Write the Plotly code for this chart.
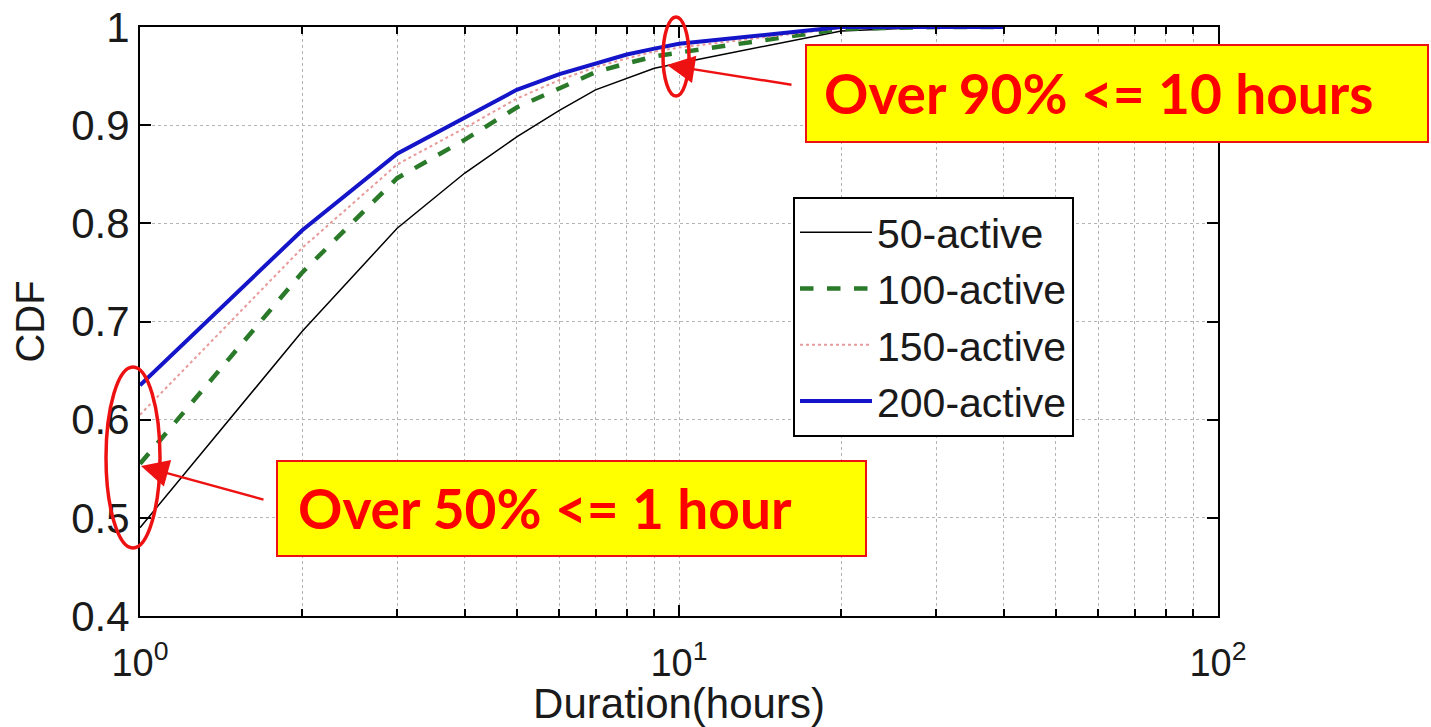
import plotly.graph_objects as go

# Session duration (hours) and the CDF for each activity group
hours = [1, 2, 3, 4, 5, 6, 7, 8, 9, 10, 20, 30, 40]
cdf_50 = [0.490, 0.690, 0.795, 0.851, 0.888, 0.915, 0.936, 0.948, 0.958, 0.963, 0.996, 1.0, 1.0]
cdf_100 = [0.555, 0.750, 0.846, 0.885, 0.918, 0.937, 0.954, 0.963, 0.970, 0.974, 0.998, 1.0, 1.0]
cdf_150 = [0.605, 0.775, 0.860, 0.897, 0.927, 0.946, 0.959, 0.968, 0.975, 0.979, 0.999, 1.0, 1.0]
cdf_200 = [0.635, 0.793, 0.871, 0.908, 0.936, 0.952, 0.963, 0.972, 0.978, 0.983, 1.0, 1.0, 1.0]

series_names = ["50-active", "100-active", "150-active", "200-active"]
y_ticks = [0.4, 0.5, 0.6, 0.7, 0.8, 0.9, 1.0]
y_tick_text = ["0.4", "0.5", "0.6", "0.7", "0.8", "0.9", "1"]
x_ticks = [1, 10, 100]
x_tick_text = ["10<sup>0</sup>", "10<sup>1</sup>", "10<sup>2</sup>"]
x_minor = [2, 3, 4, 5, 6, 7, 8, 9, 20, 30, 40, 50, 60, 70, 80, 90]

W, H = 1431, 727
L, R, T, B = 140, 1218, 27, 616  # plot area in pixels


def px(x):
    return (x - L) / (R - L)


def py(y):
    return (B - y) / (B - T)


styles = [
    dict(color="black", width=1.5),
    dict(color="#2a7a2a", width=4.5, dash="dash"),
    dict(color="#e89a9a", width=2, dash="dot"),
    dict(color="#1414c8", width=4),
]

fig = go.Figure()
for name, vals, st in zip(series_names, [cdf_50, cdf_100, cdf_150, cdf_200], styles):
    fig.add_trace(go.Scatter(x=hours, y=vals, mode="lines", name=name, line=st))

font_main = "Liberation Sans, Arial, sans-serif"
grid = dict(showgrid=True, gridcolor="#b5b5b5", griddash="dot", gridwidth=1)

fig.update_layout(
    width=W, height=H,
    margin=dict(l=L, r=W - R, t=T, b=H - B, autoexpand=False),
    paper_bgcolor="white", plot_bgcolor="white",
    font=dict(family=font_main, size=38, color="#1a1a1a"),
    showlegend=True,
    legend=dict(
        x=px(793), y=py(197), xanchor="left", yanchor="top",
        bgcolor="white", bordercolor="black", borderwidth=2,
        font=dict(size=41, family=font_main, color="#1a1a1a"),
        itemwidth=72, tracegroupgap=0,
    ),
    xaxis=dict(
        type="log", range=[0, 2], automargin=False,
        tickmode="array", tickvals=x_ticks, ticktext=x_tick_text,
        ticks="inside", ticklen=11, tickwidth=1.5, tickcolor="black",
        showline=True, linecolor="black", linewidth=2, mirror="ticks",
        ticklabelstandoff=12,
        tickfont=dict(size=38),
        minor=dict(tickmode="array", tickvals=x_minor, ticks="inside", ticklen=7,
                   tickcolor="black", **grid),
        title=dict(text="Duration(hours)", font=dict(size=42), standoff=8),
        zeroline=False,
        **grid,
    ),
    yaxis=dict(
        range=[0.4, 1.0], automargin=False,
        tickmode="array", tickvals=y_ticks, ticktext=y_tick_text,
        ticks="inside", ticklen=11, tickwidth=1.5, tickcolor="black",
        showline=True, linecolor="black", linewidth=2, mirror="ticks",
        tickfont=dict(size=42),
        title=dict(text="CDF", font=dict(size=40), standoff=14),
        zeroline=False,
        **grid,
    ),
)

# Red ellipses highlighting the 1-hour and 10-hour points
fig.add_shape(type="circle", xref="paper", yref="paper",
              x0=px(106), x1=px(160), y0=py(548), y1=py(367),
              line=dict(color="#ee1111", width=3.5))
fig.add_shape(type="circle", xref="paper", yref="paper",
              x0=px(663), x1=px(689), y0=py(96), y1=py(17),
              line=dict(color="#ee1111", width=3.5))

# Yellow callout boxes
fig.add_shape(type="rect", xref="paper", yref="paper",
              x0=px(806), x1=px(1428), y0=py(142), y1=py(45),
              fillcolor="#ffff00", line=dict(color="#ee1111", width=2), layer="above")
fig.add_shape(type="rect", xref="paper", yref="paper",
              x0=px(277), x1=px(866), y0=py(556), y1=py(461),
              fillcolor="#ffff00", line=dict(color="#ee1111", width=2), layer="above")

callout_font = dict(family="Lato, Open Sans, sans-serif", size=55, color="#ff0000")
fig.add_annotation(xref="paper", yref="paper", x=px(822), y=py(93),
                   xanchor="left", yanchor="middle", showarrow=False,
                   text="<b>Over 90% <= 10 hours</b>", font=callout_font)
fig.add_annotation(xref="paper", yref="paper", x=px(296), y=py(508),
                   xanchor="left", yanchor="middle", showarrow=False,
                   text="<b>Over 50% <= 1 hour</b>", font=callout_font)

# Arrows from the callouts to the highlighted points
fig.add_annotation(xref="paper", yref="paper", x=px(667), y=py(65),
                   ax=126, ay=20, text="", showarrow=True,
                   arrowhead=2, arrowsize=2.2, arrowwidth=2.5, arrowcolor="#ee1111")
fig.add_annotation(xref="paper", yref="paper", x=px(141), y=py(466),
                   ax=124, ay=34, text="", showarrow=True,
                   arrowhead=2, arrowsize=2.2, arrowwidth=2.5, arrowcolor="#ee1111")

fig.write_html("out.html")
